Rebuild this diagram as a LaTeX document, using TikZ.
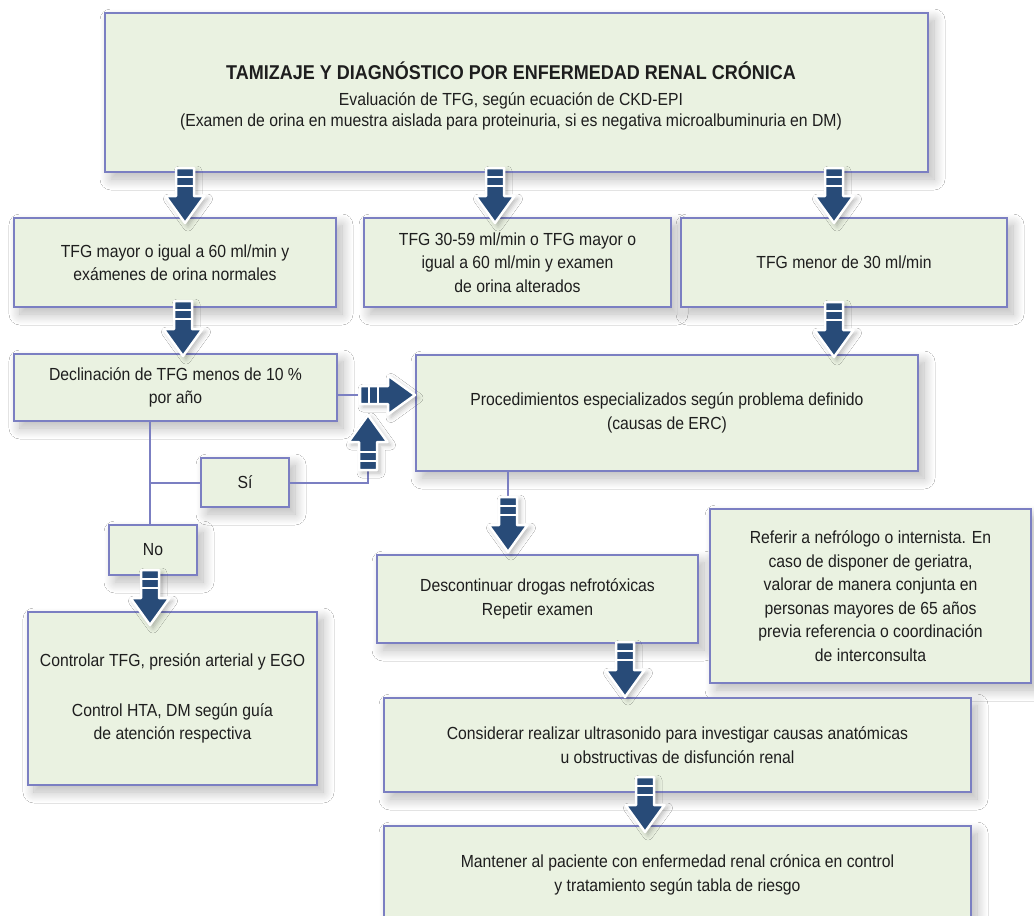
\documentclass[tikz,border=0pt]{standalone}
\usepackage{fontspec}
\setmainfont{Liberation Sans}[FakeStretch=0.9]
\usetikzlibrary{shadows.blur,calc}

\definecolor{boxfill}{HTML}{EAF2E1}
\definecolor{boxline}{HTML}{7B7FC2}
\definecolor{arrowblue}{HTML}{284B78}
\definecolor{txt}{HTML}{1E1E1E}

\newcommand\boxfont{\fontsize{17.5}{23.5}\selectfont}
\newcommand\headfont{\fontsize{17.5}{21}\selectfont}
\newcommand\titlefont{\fontsize{20}{24}\selectfont\bfseries}

\tikzset{
  box/.style={draw=boxline, line width=1.4pt, fill=boxfill, inner sep=0pt,
    align=center, text=txt, font=\boxfont,
    blur shadow={shadow xshift=6pt, shadow yshift=-7pt,
      shadow blur radius=11pt, shadow blur steps=12, shadow opacity=28}},
  label/.style={align=center, text=txt, inner sep=0pt},
  link/.style={draw=boxline, line width=1.3pt},
  pics/blockarrow/.style={code={
    \path[fill=arrowblue, draw=white, line width=2.5pt, line join=round,
      blur shadow={shadow xshift=3pt, shadow yshift=-3pt,
        shadow blur radius=5pt, shadow opacity=28}]
      (-9,-55) -- (9,-55) -- (9,-27) -- (19.5,-27) -- (0,0)
      -- (-19.5,-27) -- (-9,-27) -- cycle;
    \draw[white, line width=1.5pt]
      (-9,-46) -- (9,-46) (-9,-37) -- (9,-37);
  }}
}

\begin{document}
\begin{tikzpicture}[x=1pt,y=-1pt]
\useasboundingbox (0,0) rectangle (1034,916);
\clip (0,0) rectangle (1034,916);
\fill[white] (0,0) rectangle (1034,916);

% boxes
\node[box, minimum width=823, minimum height=159] (top) at (516.5,92.5) {};
\node[label, font=\headfont] (toptext) at (511,96)
  {{\titlefont TAMIZAJE Y DIAGNÓSTICO POR ENFERMEDAD RENAL CRÓNICA}\\[5pt]
   Evaluación de TFG, según ecuación de CKD-EPI\\
   (Examen de orina en muestra aislada para proteinuria, si es negativa microalbuminuria en DM)};

\node[box, minimum width=322, minimum height=89] (tfgok) at (175,262.5)
  {TFG mayor o igual a 60 ml/min y\\ exámenes de orina normales};
\node[box, minimum width=307, minimum height=89] (tfgmid) at (517.5,262.5)
  {TFG 30-59 ml/min o TFG mayor o\\ igual a 60 ml/min y examen\\ de orina alterados};
\node[box, minimum width=326, minimum height=89] (tfglow) at (844,262.5)
  {TFG menor de 30 ml/min};

\node[box, minimum width=323, minimum height=67] (decl) at (175.5,387.5)
  {Declinación de TFG menos de 10 \%\\ por año};
\node[box, minimum width=502, minimum height=116] (proc) at (667,413)
  {Procedimientos especializados según problema definido\\ (causas de ERC)};

\node[box, minimum width=88, minimum height=49] (si) at (245,482.5) {Sí};
\node[box, minimum width=88, minimum height=50] (no) at (153,550) {No};

\node[box, minimum width=289, minimum height=173] (ctrl) at (172.5,698.5)
  {Controlar TFG, presión arterial y EGO\\[26pt]
   Control HTA, DM según guía\\ de atención respectiva};
\node[box, minimum width=321, minimum height=88] (desc) at (537.5,599)
  {Descontinuar drogas nefrotóxicas\\ Repetir examen};
\node[box, minimum width=321, minimum height=174] (refer) at (870.5,596)
  {Referir a nefrólogo o internista. En\\ caso de disponer de geriatra,\\
   valorar de manera conjunta en\\ personas mayores de 65 años\\
   previa referencia o coordinación\\ de interconsulta};
\node[box, minimum width=587, minimum height=94] (cons) at (677.5,745)
  {Considerar realizar ultrasonido para investigar causas anatómicas\\
   u obstructivas de disfunción renal};
\node[box, minimum width=587, minimum height=98] (mant) at (677.5,875)
  {Mantener al paciente con enfermedad renal crónica en control\\
   y tratamiento según tabla de riesgo};

% thin connectors
\coordinate (hstem) at (358,395);
\coordinate (split) at (150,483);
\coordinate (upstem) at (368,470);
\coordinate (pdstem) at (508,497);
\draw[link] (decl.east |- hstem) -- (hstem);
\draw[link] (decl.south -| split) -- (no.north -| split);
\draw[link] (split) -- (si.west |- split);
\draw[link] (si.east |- split) -| (upstem);
\draw[link] (proc.south -| pdstem) -- (pdstem);

% block arrows
\pic at (185,223) {blockarrow};
\pic at (495,223) {blockarrow};
\pic at (834,223) {blockarrow};
\pic at (183,356) {blockarrow};
\pic at (834,357) {blockarrow};
\pic[rotate=90] at (415,395) {blockarrow};
\pic[rotate=180] at (368,415) {blockarrow};
\pic at (508,552) {blockarrow};
\pic at (150,625) {blockarrow};
\pic at (625,697) {blockarrow};
\pic at (645,832) {blockarrow};
\end{tikzpicture}
\end{document}
